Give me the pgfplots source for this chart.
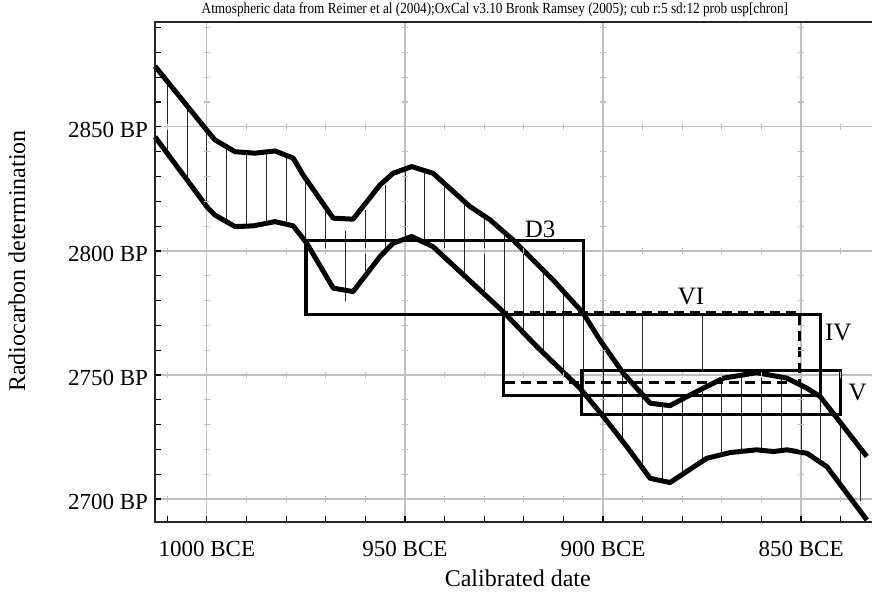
\documentclass[border=0pt]{standalone}
\usepackage{fontspec}
\setmainfont{Liberation Serif}
\newfontfamily\titlefont[FakeStretch=0.86]{Liberation Serif}
\usepackage{pgfplots}
\usepackage{pgfplotstable}
\pgfplotsset{compat=1.18}

% calibration curve, upper and lower envelope
\pgfplotstableread{
x y
1013.1 2874.5
1000.1 2848.8
998.0 2844.8
992.9 2840.0
987.9 2839.4
982.8 2840.3
978.2 2837.4
975.7 2830.6
968.1 2813.2
963.1 2812.8
956.3 2826.6
953.0 2831.3
948.3 2834.0
942.9 2831.3
933.6 2817.9
928.5 2812.5
922.7 2804.4
912.6 2788.3
905.0 2774.9
900.8 2764.1
894.9 2750.7
888.1 2738.6
883.1 2737.6
877.2 2742.6
869.6 2748.7
861.2 2750.9
853.6 2748.7
848.5 2744.6
845.2 2741.3
833.4 2717.1
}\curvehi

\pgfplotstableread{
x y
1013.1 2846.0
999.7 2817.2
998.0 2814.5
992.9 2809.8
988.3 2810.1
982.8 2811.8
978.2 2810.1
974.8 2803.1
968.1 2785.0
963.1 2783.6
956.3 2797.7
953.0 2803.1
948.3 2805.8
942.9 2801.7
925.2 2775.5
916.7 2761.4
905.8 2744.6
899.9 2733.2
894.0 2721.1
888.1 2708.3
883.1 2706.6
873.8 2716.4
867.9 2718.7
861.2 2719.8
857.0 2719.1
853.6 2719.8
848.5 2718.4
843.5 2713.0
833.4 2691.5
}\curvelo

% hatching, every 5 years
\pgfplotstableread{
x lo hi
1010 2839.2 2868.4
1005 2828.6 2858.6
1000 2817.8 2848.8
995 2811.7 2841.9
990 2810.0 2839.6
985 2811.1 2839.9
980 2810.7 2838.5
975 2803.6 2829.0
970 2800.0 2818.0
965 2780.0 2808.0
960 2792.0 2816.5
955 2801.0 2826.6
950 2804.8 2833.0
945 2803.3 2832.4
940 2797.4 2827.1
935 2790.0 2819.9
930 2782.6 2814.1
925 2775.2 2807.6
920 2766.9 2800.1
915 2758.8 2792.1
910 2751.1 2783.7
905 2743.1 2774.9
900 2733.0 2762.3
895 2723.1 2750.9
890 2712.4 2774.5
885 2707.2 2738.0
880 2709.9 2740.2
875 2715.1 2744.4
875 2751.0 2774.5
870 2717.9 2748.6
865 2719.2 2749.9
860 2719.6 2750.6
855 2719.4 2749.1
850 2718.8 2745.8
845 2714.6 2740.9
840 2705.6 2730.6
835 2699.0 2720.4
}\hatch

\begin{document}
\begin{tikzpicture}
\begin{axis}[
  name=a,
  scale only axis,
  width=358.5pt, height=250pt,
  x dir=reverse,
  xmin=832.1, xmax=1013.1,
  ymin=2690.7, ymax=2892.3,
  axis line style={draw=none},
  xtick={1000,950,900,850},
  xticklabels={1000 BCE,950 BCE,900 BCE,850 BCE},
  ytick={2700,2750,2800,2850},
  yticklabels={2700 BP,2750 BP,2800 BP,2850 BP},
  minor xtick={1010,990,980,970,960,940,930,920,910,890,880,870,860,840},
  minor ytick={2710,2720,2730,2740,2760,2770,2780,2790,2810,2820,2830,2840,2860,2870,2880,2890},
  tick pos=left,
  tick align=inside,
  major tick length=3pt,
  minor tick length=3pt,
  every tick/.style={black, line width=0.6pt},
  grid=major,
  major grid style={gray!50, line width=0.6pt},
  tick label style={font=\fontsize{11.5}{13}\selectfont},
  xticklabel style={yshift=-6pt},
  yticklabel style={yshift=-1.5pt},
  clip=false,
]

% small ticks along the grid lines
\addplot[only marks, mark=|, mark size=1.6pt, color=gray!50, mark options={line width=0.6pt}] coordinates {
(1010,2700)(990,2700)(980,2700)(970,2700)(960,2700)(940,2700)(930,2700)(920,2700)(910,2700)(890,2700)(880,2700)(870,2700)(860,2700)(840,2700)
(1010,2750)(990,2750)(980,2750)(970,2750)(960,2750)(940,2750)(930,2750)(920,2750)(910,2750)(890,2750)(880,2750)(870,2750)(860,2750)(840,2750)
(1010,2800)(990,2800)(980,2800)(970,2800)(960,2800)(940,2800)(930,2800)(920,2800)(910,2800)(890,2800)(880,2800)(870,2800)(860,2800)(840,2800)
(1010,2850)(990,2850)(980,2850)(970,2850)(960,2850)(940,2850)(930,2850)(920,2850)(910,2850)(890,2850)(880,2850)(870,2850)(860,2850)(840,2850)
};
\addplot[only marks, mark=-, mark size=1.6pt, color=gray!50, mark options={line width=0.6pt}] coordinates {
(1000,2710)(1000,2720)(1000,2730)(1000,2740)(1000,2760)(1000,2770)(1000,2780)(1000,2790)(1000,2810)(1000,2820)(1000,2830)(1000,2840)(1000,2860)(1000,2870)(1000,2880)(1000,2890)
(950,2710)(950,2720)(950,2730)(950,2740)(950,2760)(950,2770)(950,2780)(950,2790)(950,2810)(950,2820)(950,2830)(950,2840)(950,2860)(950,2870)(950,2880)(950,2890)
(900,2710)(900,2720)(900,2730)(900,2740)(900,2760)(900,2770)(900,2780)(900,2790)(900,2810)(900,2820)(900,2830)(900,2840)(900,2860)(900,2870)(900,2880)(900,2890)
(850,2710)(850,2720)(850,2730)(850,2740)(850,2760)(850,2770)(850,2780)(850,2790)(850,2810)(850,2820)(850,2830)(850,2840)(850,2860)(850,2870)(850,2880)(850,2890)
};

% hatching between the curves
\addplot[draw=none, mark=none,
  error bars/.cd, y dir=plus, y explicit, error mark=none,
  error bar style={draw=black!85, line width=0.45pt}]
  table[x=x, y=lo, y error expr=\thisrow{hi}-\thisrow{lo}] {\hatch};

\addplot[black, line width=2.5pt, line join=round] table {\curvehi};
\addplot[black, line width=2.5pt, line join=round] table {\curvelo};

% ranges
\addplot[black, line width=1.6pt, line join=miter] coordinates {(975,2774.2)(905,2774.2)(905,2804.2)(975,2804.2)} -- cycle;
\addplot[black, line width=1.6pt, line join=miter] coordinates {(925.2,2741.7)(845.2,2741.7)(845.2,2774.2)(925.2,2774.2)} -- cycle;
\addplot[black, line width=1.6pt, line join=miter] coordinates {(905.4,2733.9)(840,2733.9)(840,2751.7)(905.4,2751.7)} -- cycle;
\addplot[black, line width=1.6pt, dash pattern=on 5pt off 3pt] coordinates {(924.7,2746.9)(850.4,2746.9)(850.4,2775.2)(924.7,2775.2)};

\node[font=\fontsize{12.5}{14}\selectfont] at (axis cs:915.9,2808.5) {D3};
\node[font=\fontsize{12.5}{14}\selectfont] at (axis cs:877.8,2781.6) {VI};
\node[font=\fontsize{12.5}{14}\selectfont] at (axis cs:840.6,2766.9) {IV};
\node[font=\fontsize{12.5}{14}\selectfont] at (axis cs:835.7,2742.9) {V};

% frame (no right edge)
\draw[black!85, line width=0.8pt] (axis description cs:1,1) -- (axis description cs:0,1) -- (axis description cs:0,0) -- (axis description cs:1,0);

\node[font=\titlefont\fontsize{7.7}{8}\selectfont] at (axis description cs:0.474,1.024) {Atmospheric data from Reimer et al (2004);OxCal v3.10 Bronk Ramsey (2005); cub r:5 sd:12 prob usp[chron]};
\node[font=\fontsize{12}{14}\selectfont, rotate=90] at (axis description cs:-0.1925,0.522) {Radiocarbon determination};
\node[font=\fontsize{12}{14}\selectfont] at (axis description cs:0.506,-0.112) {Calibrated date};
\end{axis}
\pgfresetboundingbox
\path[use as bounding box] ([shift={(-77.5pt,-40.5pt)}]a.south west) rectangle ([shift={(0.5pt,11pt)}]a.north east);
\end{tikzpicture}
\end{document}
